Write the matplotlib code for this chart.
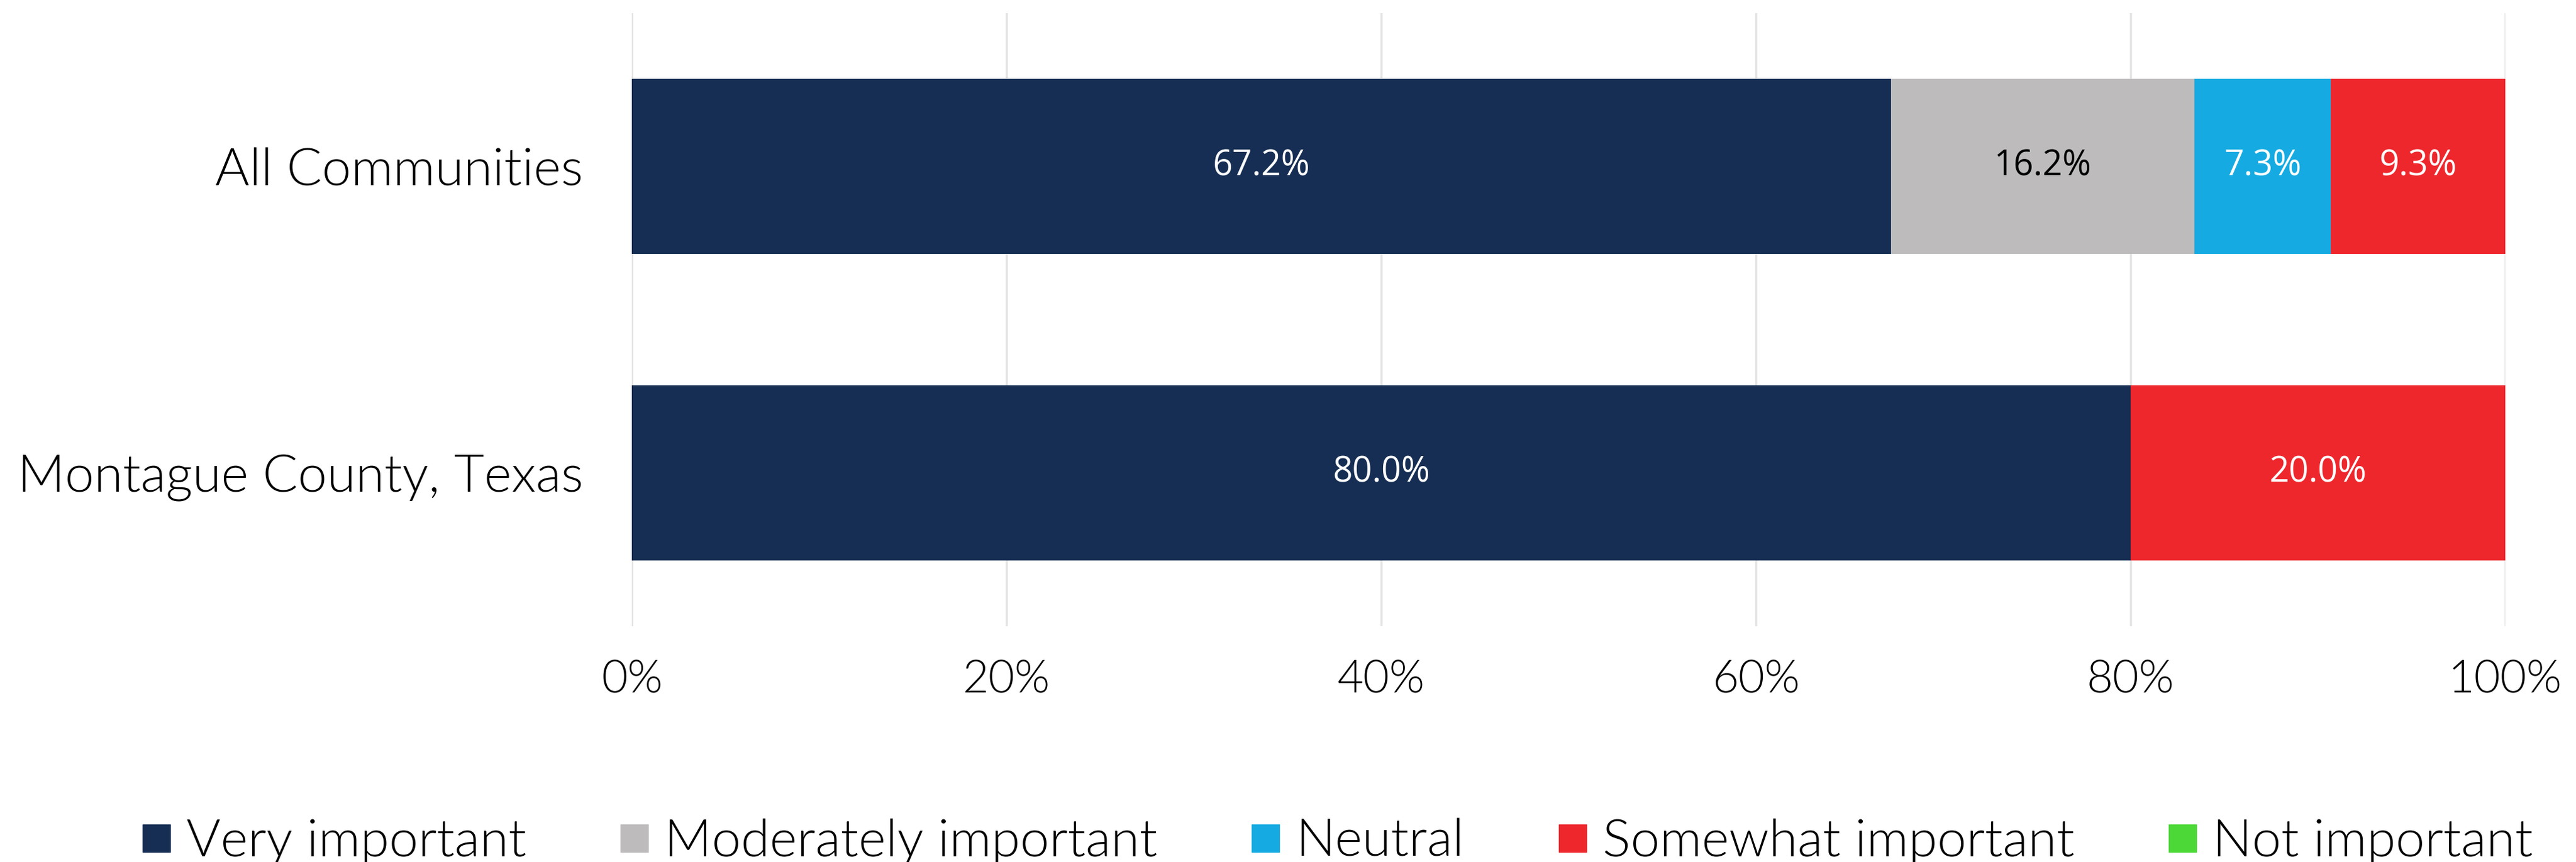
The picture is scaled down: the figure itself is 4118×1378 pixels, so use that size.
import numpy as np
import matplotlib.pyplot as plt
from matplotlib.lines import Line2D

groups = ["All Communities", "Montague County, Texas"]
levels = ["Very important", "Moderately important", "Neutral",
          "Somewhat important", "Not important"]
shares = {
    "Very important": [67.2, 80.0],
    "Moderately important": [16.2, 0.0],
    "Neutral": [7.3, 0.0],
    "Somewhat important": [9.3, 20.0],
    "Not important": [0.0, 0.0],
}
colors = ["#162E53", "#BDBBBC", "#15ABE2", "#EE272D", "#4CD937"]
text_colors = ["white", "black", "white", "white", "white"]
xticks = [0, 20, 40, 60, 80, 100]

fig = plt.figure(figsize=(41.18, 13.78), dpi=100)
ax = fig.add_axes([1010 / 4118, 1 - 1001 / 1378, 2995 / 4118, 980 / 1378])

y = np.arange(len(groups))
left = np.zeros(len(groups))
for lvl, col, tcol in zip(levels, colors, text_colors):
    vals = np.array(shares[lvl])
    bars = ax.barh(y, vals, left=left, height=0.571, color=col, zorder=3)
    labels = [f"{v:.1f}%" if v > 0 else "" for v in vals]
    ax.bar_label(bars, labels=labels, label_type="center", color=tcol,
                 fontsize=40, family="Open Sans")
    left += vals

ax.set_xlim(0, 100)
ax.set_ylim(1.5, -0.5)
ax.set_yticks(y)
ax.set_yticklabels(groups, fontsize=60, family="Lato", fontweight=300,
                   color="black")
ax.set_xticks(xticks)
ax.set_xticklabels([f"{t}%" for t in xticks], fontsize=52, family="Lato",
                   fontweight=300, color="black")
ax.tick_params(axis="y", length=0, pad=56)
ax.tick_params(axis="x", length=0, pad=38)
ax.grid(axis="x", color="#E4E4E4", linewidth=2.5, zorder=0)
for s in ax.spines.values():
    s.set_visible(False)

handles = [Line2D([], [], marker="s", linestyle="none", markersize=31.7,
                  markerfacecolor=c, markeredgecolor=c) for c in colors]
fig.legend(handles, levels, loc="center",
           bbox_to_anchor=(2138 / 4118, 1 - 1346 / 1378),
           ncol=5, frameon=False, handlelength=0.55, handletextpad=0.3,
           columnspacing=1.8, prop={"family": "Lato", "weight": 300, "size": 60})

fig.savefig("out.png", dpi=100)
